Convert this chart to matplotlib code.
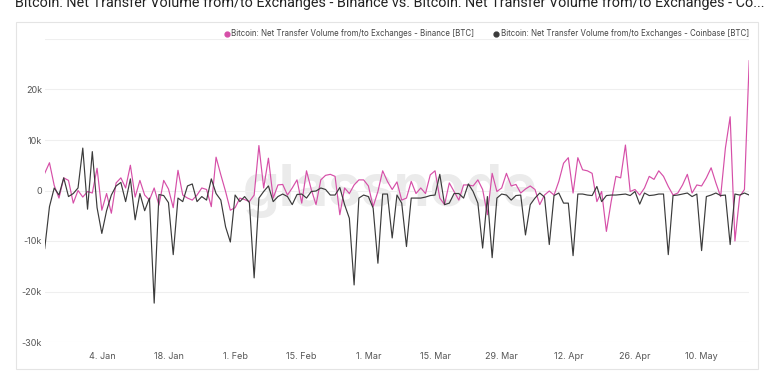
import numpy as np
import pandas as pd
import matplotlib
matplotlib.use('Agg')
import matplotlib.pyplot as plt
import matplotlib.dates as mdates
from matplotlib.lines import Line2D
from matplotlib.patches import Rectangle

plt.rcParams['font.family'] = ['Inter', 'DejaVu Sans']

# daily values, thousand BTC
dates = pd.date_range('2020-12-23', periods=149, freq='D')

binance_k = [
    3.4, 5.5, 1.0, -1.5, 2.5, 2.0, -2.5, 0.0, -1.3, -0.2,
    -0.5, 4.4, -3.9, -0.6, -4.5, 1.5, 2.5, 0.5, 5.0, -1.3,
    2.0, -0.9, -1.9, 0.5, -2.9, 2.0, 0.3, -3.4, 4.0, -0.9,
    -1.5, -1.9, -0.9, 0.5, 0.2, -3.2, 6.6, 3.1, -0.2, -3.9,
    -3.4, -1.5, -1.8,
    -2.2, -0.9, 8.9, 0.5, 6.4, -1.5, 1.1, 1.2, -0.9, 0.5,
    2.1, -2.5, 3.9, 0.2, -2.8, 2.1, 3.0, 3.2, 2.8,
    -4.8, 0.5, -0.6, 1.1, 2.1, 2.1, 0.9, -3.2, -0.2, 3.9,
    1.8, 0.2, 1.7, -1.9, -1.5, 1.8, -0.6, 0.5, -0.6, 3.1,
    3.9, -1.5, -2.8, 1.5, -0.2, -1.9, 1.1, 1.1, 0.9, 2.1,
    0.2, -4.8, 3.4, -0.2, 0.5, 3.4, 0.9, 1.2, -0.5, 0.3,
    0.9, 0.2, -2.8, -0.9, -0.1, -0.9, 1.8, 5.4, 6.5, -0.5,
    6.5, 4.1, 3.9, 3.4, -2.2, -0.2, -8.1, -2.2, 2.8, 2.5,
    9.0, -0.2, 0.2, -0.9, 0.5, 2.8, 2.2, 3.9, 2.8, 0.8,
    -0.9, -0.5, 1.1, 3.2, -0.5, 1.1, 0.9, 2.5, 4.5, 1.5,
    -1.2, 8.4, 14.6, -10.0, -1.2, 0.2, 25.7,
]

coinbase_k = [
    -11.5, -3.2, 0.5, -0.9, 2.5, -1.2, -0.6, 0.5, 8.4, -3.7,
    7.7, -3.4, -8.5, -4.0, -0.9, 0.9, 1.6, -2.2, 2.3, -5.8,
    -0.6, -4.0, -1.5, -22.3, -0.8, -1.0, -2.4, -12.7, -1.5, -2.2,
    0.9, 1.3, -2.2, -1.2, -1.9, 2.3, -0.6, -1.9, -7.2, -10.2,
    -0.9, -2.2, -1.2, -2.4, -17.3, -1.5, -0.2, 0.9, -2.2, -1.2,
    -0.7, -1.2, -2.8, -0.8, -0.7, -1.5, -0.2, -0.1,
    0.5, 0.2, -0.9, -0.9, 0.6, -2.8, -5.5, -18.7, -1.5, -0.9,
    -1.2, -3.5, -14.4, -0.7, -0.7, -9.4, -0.9, -2.5, -11.1, -1.5,
    -1.5, -1.5, -1.3, -1.0,
    -0.9, 3.2, -2.8, -2.5, -0.6, -0.6, -1.5, 1.3, -0.2, -2.5,
    -11.4, -1.2, -13.3, -1.5, -0.7, -0.9, -1.9, -1.0, -0.9, -8.8,
    -2.8, -1.5, -0.5, -1.3, -10.7, -1.0, -0.5, -2.5, -2.5, -12.9,
    -0.7, -0.7, -0.9, -1.0, 0.8, -2.2, -1.0, -0.9, -0.9, -0.8,
    -0.7, -1.0, -0.2, -2.7, -0.5, -1.0, -0.9, -0.7, -0.7, -12.7,
    -1.0, -0.9, -0.7, -0.5, -1.2, -0.7, -11.9, -1.2, -0.9, -0.5,
    -1.0, -0.9, -10.7, -0.7, -0.9, -0.5, -0.9,
]

y_ticks = [-30000, -20000, -10000, 0, 10000, 20000]
y_tick_labels = ['-30k', '-20k', '-10k', '0', '10k', '20k']
x_ticks = ['2021-01-04', '2021-01-18', '2021-02-01', '2021-02-15', '2021-03-01',
           '2021-03-15', '2021-03-29', '2021-04-12', '2021-04-26', '2021-05-10']

title = ('Bitcoin: Net Transfer Volume from/to Exchanges - Binance vs. '
         'Bitcoin: Net Transfer Volume from/to Exchanges - Co...')
label_binance = 'Bitcoin: Net Transfer Volume from/to Exchanges - Binance [BTC]'
label_coinbase = 'Bitcoin: Net Transfer Volume from/to Exchanges - Coinbase [BTC]'

pink = '#d64fa8'
dark = '#3b3b3b'

W, H = 775, 376
fig = plt.figure(figsize=(W / 100, H / 100), dpi=100)

# panel frame
fig.patches.append(Rectangle((16 / W, 1 - 369 / H), 742 / W, 347 / H,
                             transform=fig.transFigure, fill=False,
                             edgecolor='#e4e4e4', linewidth=0.8))

fig.text(15 / W, 1 - 6.5 / H, title, fontsize=10.4,
         family=['Roboto', 'DejaVu Sans'],
         color='#222222', va='baseline')

ax = fig.add_axes([44.7 / W, 1 - 342 / H, (749.2 - 44.7) / W, (342 - 39) / H])

binance = np.array(binance_k) * 1000
coinbase = np.array(coinbase_k) * 1000

ax.plot(dates, binance, color=pink, lw=0.85, zorder=3)
ax.plot(dates, coinbase, color=dark, lw=0.85, zorder=4)

ax.text(0.49, 0.5, 'glassnode', transform=ax.transAxes, fontsize=42,
        fontweight='bold', color='#ebebeb', ha='center', va='center', zorder=1)

ax.set_xlim(dates[0], dates[-1])
ax.set_ylim(-30000, 30000)
ax.set_yticks(y_ticks + [30000])
ax.set_yticklabels(y_tick_labels + [''])
ax.set_xticks(pd.to_datetime(x_ticks))
ax.xaxis.set_major_formatter(mdates.DateFormatter('%-d. %b'))

ax.grid(axis='y', color='#efefef', linewidth=0.8, zorder=0)
for s in ax.spines.values():
    s.set_visible(False)
ax.tick_params(axis='y', length=0, pad=2, labelsize=6.5, labelcolor='#555555')
ax.tick_params(axis='x', length=0, pad=7, labelsize=6.5, labelcolor='#555555')

handles = [
    Line2D([], [], marker='o', linestyle='', color=pink, markersize=3.5),
    Line2D([], [], marker='o', linestyle='', color=dark, markersize=3.5),
]
fig.legend(handles, [label_binance, label_coinbase], loc='center right',
           bbox_to_anchor=(756 / W, 1 - 34 / H), ncol=2, frameon=False,
           fontsize=5.7, handletextpad=0.1, columnspacing=2.2,
           handlelength=1.0, labelcolor='#444444')

fig.savefig('out.png', dpi=100)
